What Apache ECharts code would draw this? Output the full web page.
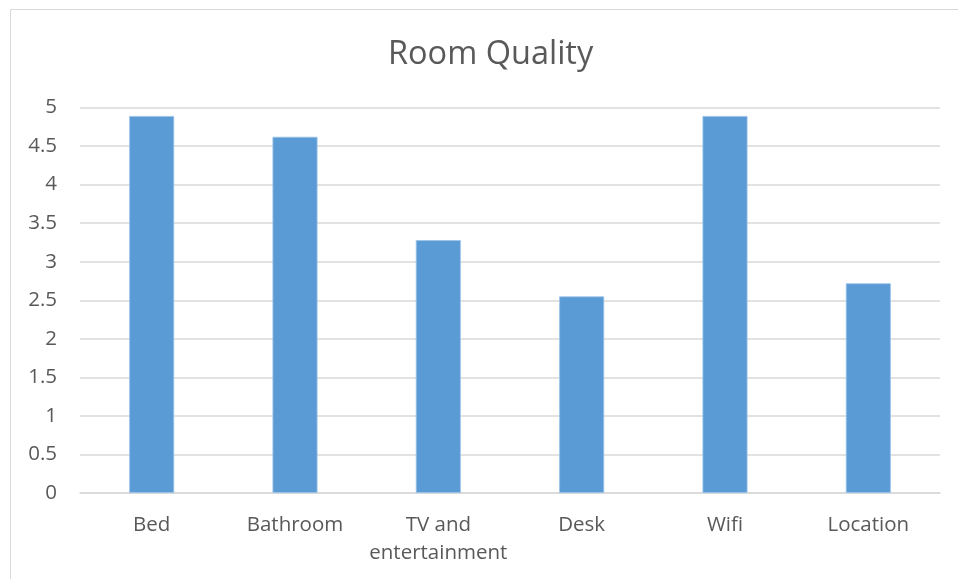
<!DOCTYPE html>
<html>
<head>
<meta charset="utf-8">
<style>html,body{margin:0;padding:0;background:#fff;}#c{width:958px;height:579px;}</style>
<script src="https://cdn.jsdelivr.net/npm/echarts@6/dist/echarts.min.js"></script>
</head>
<body>
<div id="c"></div>
<script>
var categories = ['Bed', 'Bathroom', 'TV and\nentertainment', 'Desk', 'Wifi', 'Location'];
var ratings = [4.89, 4.62, 3.28, 2.55, 4.89, 2.72];
var yTicks = [0, 0.5, 1, 1.5, 2, 2.5, 3, 3.5, 4, 4.5, 5];

var chart = echarts.init(document.getElementById('c'), null, {renderer: 'canvas'});
var font = 'Open Sans';
chart.setOption({
  animation: false,
  backgroundColor: '#ffffff',
  title: {
    text: 'Room Quality',
    left: 383,
    top: 33,
    textStyle: {fontFamily: font, fontWeight: 'normal', fontSize: 32.5, color: '#595959'}
  },
  graphic: [{
    type: 'rect',
    shape: {x: 10.5, y: 9.5, width: 1000, height: 700},
    style: {fill: 'none', stroke: '#d9d9d9', lineWidth: 1},
    silent: true
  }],
  grid: {left: 80, right: 18, top: 107.5, bottom: 86, containLabel: false},
  xAxis: {
    type: 'category',
    data: categories,
    axisLine: {show: true, lineStyle: {color: '#d9d9d9', width: 1.5}},
    axisTick: {show: false},
    axisLabel: {fontFamily: font, fontSize: 20.5, color: '#595959', margin: 18, lineHeight: 28, interval: 0}
  },
  yAxis: {
    type: 'value',
    min: yTicks[0],
    max: yTicks[yTicks.length - 1],
    interval: yTicks[1] - yTicks[0],
    axisLine: {show: false},
    axisTick: {show: false},
    splitLine: {lineStyle: {color: '#d9d9d9', width: 1.5}},
    axisLabel: {fontFamily: font, fontSize: 20.5, color: '#595959', margin: 23,
      formatter: function (v) { return String(v); }}
  },
  series: [{
    type: 'bar',
    data: ratings,
    barWidth: 45,
    itemStyle: {color: '#5b9bd5', borderColor: '#9cc3e8', borderWidth: 0.8}
  }]
});
</script>
</body>
</html>
